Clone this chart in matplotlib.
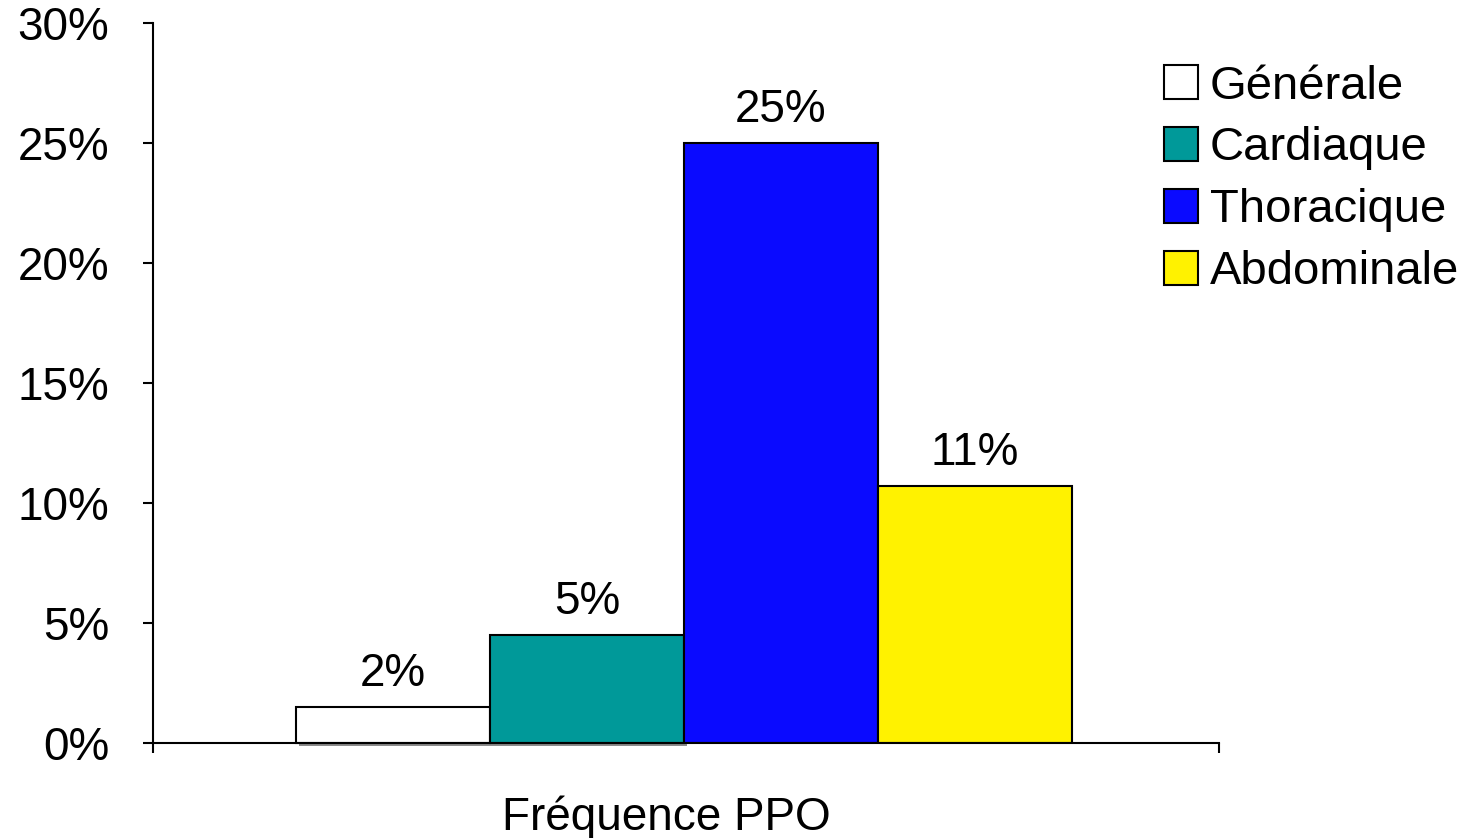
import math
import matplotlib
matplotlib.use("Agg")
import matplotlib.pyplot as plt
import matplotlib.patheffects as pe
from matplotlib.ticker import PercentFormatter

# Fréquence des PPO selon le type de chirurgie
groups = ["Générale", "Cardiaque", "Thoracique", "Abdominale"]
values = [1.5, 4.5, 25.0, 10.7]
colors = ["#FFFFFF", "#009999", "#0A0AFF", "#FFF200"]
category = "Fréquence PPO"
yticks = [0, 5, 10, 15, 20, 25, 30]

plt.rcParams["font.family"] = ["Liberation Sans", "DejaVu Sans"]
fs = 33

fig = plt.figure(figsize=(14.68, 8.38), dpi=100)
ax = fig.add_axes([0.1042, 0.1134, 0.7262, 0.8592])

width = 0.182
offsets = [(i - (len(groups) - 1) / 2) * width for i in range(len(groups))]

bars = []
for off, val, col, name in zip(offsets, values, colors, groups):
    b = ax.bar(off, val, width=width, color=col, edgecolor="black",
               linewidth=1.5, label=name, zorder=3)
    bars.append(b[0])
    # étiquette arrondie à partir de la valeur
    ax.annotate(f"{math.floor(val + 0.5)}%", (off, val), xytext=(0, 8),
                textcoords="offset points", ha="center", va="bottom",
                fontsize=fs)

ax.set_xlim(-0.498, 0.502)
ax.set_ylim(0, 30)
ax.set_yticks(yticks)
ax.yaxis.set_major_formatter(PercentFormatter(decimals=0))

# pas de graduation au centre, seulement aux extrémités de l'axe
ax.set_xticks([-0.498, 0.502])
ax.set_xticklabels([])
ax.annotate(category, xy=(0.5, 0), xycoords="axes fraction", xytext=(-14, -37.5),
            textcoords="offset points", ha="center", va="top", fontsize=fs)

ax.spines["top"].set_visible(False)
ax.spines["right"].set_visible(False)
for s in ("left", "bottom"):
    ax.spines[s].set_linewidth(1.5)
    ax.spines[s].set_zorder(4)

ax.tick_params(axis="y", direction="out", length=7.5, width=1.5, pad=24, labelsize=fs)
ax.tick_params(axis="x", direction="out", length=7.5, width=1.5)

ax.legend(loc="upper left", bbox_to_anchor=(0.793, 0.923), bbox_transform=fig.transFigure,
          frameon=False, fontsize=34, handlelength=0.72, handleheight=0.72,
          handletextpad=0.25, labelspacing=0.38, borderpad=0, borderaxespad=0)

# petite ombre grise sous les deux premières barres (après la légende)
for b in bars[:2]:
    b.set_clip_on(False)
    b.set_path_effects([pe.SimplePatchShadow(offset=(2.5, -2.5), shadow_rgbFace="#8c8c8c", alpha=1.0),
                        pe.Normal()])

fig.savefig("out.png", dpi=100)
